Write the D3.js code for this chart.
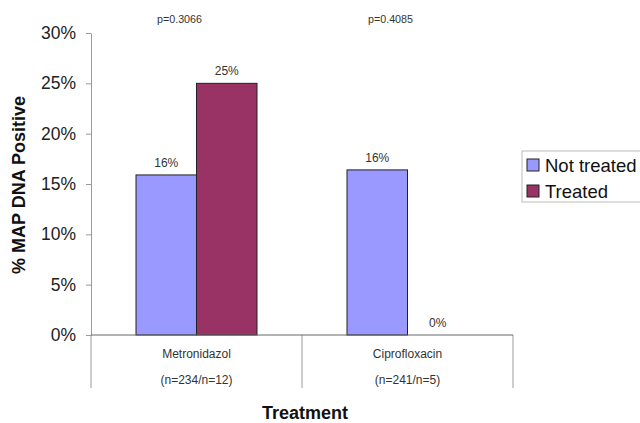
<!DOCTYPE html>
<html>
<head>
<meta charset="utf-8">
<script src="https://cdn.jsdelivr.net/npm/d3@7"></script>
<style>
  html, body { margin: 0; padding: 0; background: #fff; }
  svg { display: block; font-family: Arial, "Liberation Sans", sans-serif; }
</style>
</head>
<body>
<svg id="chart" width="640" height="423"></svg>
<script>
// Treatment groups and their sample-size notes
const categories = ["Metronidazol", "Ciprofloxacin"];
const sampleNotes = ["(n=234/n=12)", "(n=241/n=5)"];
const pValues = ["p=0.3066", "p=0.4085"];

// Series
const series = ["Not treated", "Treated"];
const notTreated = [0.159, 0.164];
const treated = [0.25, 0.0];

const yTicks = [0, 0.05, 0.10, 0.15, 0.20, 0.25, 0.30];
const colors = ["#9999FF", "#993366"];

const svg = d3.select("#chart");
const plotLeft = 91, plotRight = 513, plotTop = 33, plotBottom = 335, plotBelow = 388;

const x = d3.scaleBand().domain(categories).range([plotLeft, plotRight]).padding(0);
const xs = d3.scaleBand().domain(series).range([0, x.bandwidth()])
  .paddingInner(0).paddingOuter(0.744);
const y = d3.scaleLinear().domain([0, 0.30]).range([plotBottom, plotTop]);

const fmt = d3.format(".0%");

// y axis
const yAxis = svg.append("g")
  .attr("transform", `translate(${plotLeft},0)`)
  .call(d3.axisLeft(y).tickValues(yTicks).tickFormat(fmt).tickSize(5).tickPadding(10).tickSizeOuter(0));
yAxis.select(".domain").attr("stroke", "#9a9a9a");
yAxis.selectAll(".tick line").attr("stroke", "#9a9a9a");
yAxis.selectAll(".tick text").attr("font-size", 17.5).attr("fill", "#222")
  .attr("font-family", "Arial, 'Liberation Sans', sans-serif");

// category dividers below the baseline
const edges = [plotLeft].concat(categories.map(c => x(c) + x.bandwidth()));
svg.selectAll("line.divider").data(edges).join("line")
  .attr("class", "divider")
  .attr("x1", d => d).attr("x2", d => d)
  .attr("y1", plotBottom).attr("y2", plotBelow)
  .attr("stroke", "#9a9a9a").attr("stroke-width", 1);

// bars
const rows = categories.map((c, i) => ({
  cat: c,
  vals: [{ s: series[0], v: notTreated[i] }, { s: series[1], v: treated[i] }]
}));
const groups = svg.selectAll("g.grp").data(rows).join("g")
  .attr("class", "grp")
  .attr("transform", d => `translate(${x(d.cat)},0)`);

groups.selectAll("rect").data(d => d.vals.filter(e => e.v > 0)).join("rect")
  .attr("x", d => xs(d.s))
  .attr("y", d => y(d.v))
  .attr("width", xs.bandwidth())
  .attr("height", d => y(0) - y(d.v))
  .attr("fill", d => colors[series.indexOf(d.s)])
  .attr("stroke", "#222")
  .attr("stroke-width", 1);

groups.selectAll("text.val").data(d => d.vals).join("text")
  .attr("class", "val")
  .attr("x", d => xs(d.s) + xs.bandwidth() / 2)
  .attr("y", d => y(d.v) - 8)
  .attr("text-anchor", "middle")
  .attr("font-size", 12)
  .attr("fill", "#333")
  .text(d => fmt(d.v));

// x baseline
svg.append("line")
  .attr("x1", plotLeft).attr("x2", plotRight)
  .attr("y1", plotBottom).attr("y2", plotBottom)
  .attr("stroke", "#666").attr("stroke-width", 1);

// category labels
svg.selectAll("text.cat").data(categories).join("text")
  .attr("class", "cat")
  .attr("x", d => x(d) + x.bandwidth() / 2)
  .attr("y", 358)
  .attr("text-anchor", "middle")
  .attr("font-size", 12).attr("fill", "#333")
  .text(d => d);
svg.selectAll("text.note").data(categories).join("text")
  .attr("class", "note")
  .attr("x", d => x(d) + x.bandwidth() / 2)
  .attr("y", 384)
  .attr("text-anchor", "middle")
  .attr("font-size", 12).attr("fill", "#333")
  .text((d, i) => sampleNotes[i]);

// p-values over each group
svg.selectAll("text.p").data(categories).join("text")
  .attr("class", "p")
  .attr("x", d => x(d) + x.bandwidth() / 2 - 17)
  .attr("y", 23)
  .attr("text-anchor", "middle")
  .attr("font-size", 11).attr("fill", "#333")
  .attr("textLength", 45).attr("lengthAdjust", "spacingAndGlyphs")
  .text((d, i) => pValues[i]);

// axis titles
svg.append("text")
  .attr("x", 305).attr("y", 419)
  .attr("text-anchor", "middle")
  .attr("font-size", 18).attr("font-weight", "bold").attr("fill", "#111")
  .text("Treatment");
svg.append("text")
  .attr("transform", "translate(25,185) rotate(-90)")
  .attr("text-anchor", "middle")
  .attr("font-size", 18).attr("font-weight", "bold").attr("fill", "#111")
  .text("% MAP DNA Positive");

// legend
const lg = svg.append("g").attr("transform", "translate(522,151)");
lg.append("rect").attr("x", 0).attr("y", 0).attr("width", 130).attr("height", 51)
  .attr("fill", "#fff").attr("stroke", "#bbb");
const items = lg.selectAll("g.item").data(series).join("g")
  .attr("class", "item")
  .attr("transform", (d, i) => `translate(5,${8 + i * 26})`);
items.append("rect").attr("width", 12).attr("height", 12)
  .attr("fill", (d, i) => colors[i]).attr("stroke", "#222");
items.append("text").attr("x", 18).attr("y", 12.5)
  .attr("font-size", 18.5).attr("fill", "#111")
  .text(d => d);
</script>
</body>
</html>
